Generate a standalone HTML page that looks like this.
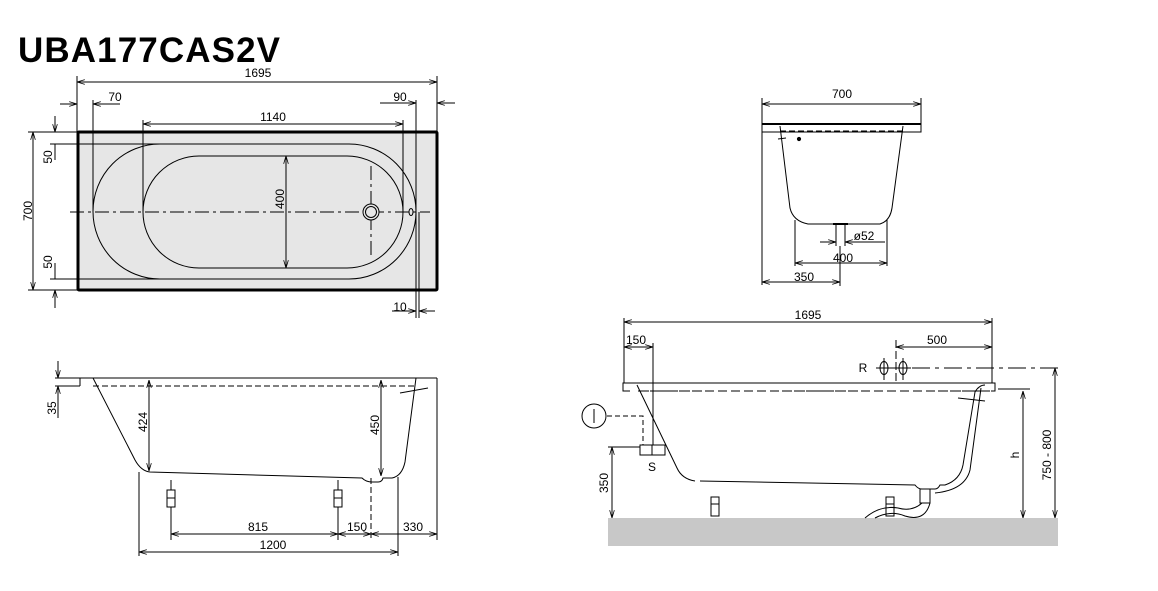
<!DOCTYPE html><html><head><style>body{margin:0;background:#fff}svg{display:block}text{font-family:"Liberation Sans",sans-serif;font-size:12px;fill:#000}</style></head><body>
<svg width="1158" height="591" viewBox="0 0 1158 591" xmlns="http://www.w3.org/2000/svg">
<defs><marker id="a" viewBox="0 0 10 6" refX="10" refY="3" markerWidth="8" markerHeight="5" orient="auto-start-reverse"><path d="M0,0L10,3L0,6" fill="none" stroke="#000"/></marker></defs>
<text x="18" y="62" style="font-size:35px;font-weight:bold" textLength="262">UBA177CAS2V</text>
<g fill="none" stroke="#000" stroke-width="1">
<!-- top view -->
<rect x="78" y="132" width="359" height="158" fill="#e6e6e6" stroke-width="3" rx="1"/>
<line x1="77" y1="76" x2="77" y2="132"/><line x1="437" y1="76" x2="437" y2="132"/>
<line x1="77" y1="82" x2="437" y2="82" marker-start="url(#a)" marker-end="url(#a)"/>
<line x1="60" y1="104" x2="77" y2="104" marker-end="url(#a)"/><line x1="93" y1="104" x2="120" y2="104" marker-start="url(#a)"/>
<line x1="93" y1="100" x2="93" y2="212"/>
<line x1="380" y1="103" x2="416" y2="103" marker-end="url(#a)"/><line x1="455" y1="103" x2="437" y2="103" marker-end="url(#a)"/>
<line x1="416" y1="100" x2="416" y2="318"/><line x1="419" y1="212" x2="419" y2="318"/>
<line x1="143" y1="124" x2="403" y2="124" marker-start="url(#a)" marker-end="url(#a)"/>
<line x1="143" y1="120" x2="143" y2="212"/><line x1="403" y1="120" x2="403" y2="212"/>
<rect x="93" y="144" width="323" height="135" rx="67" ry="67.5"/>
<rect x="143" y="156" width="260" height="112" rx="56" ry="56"/>
<line x1="70" y1="212" x2="430" y2="212" stroke-dasharray="14,4,3,4"/>
<line x1="371" y1="166" x2="371" y2="258" stroke-dasharray="14,4,3,4"/>
<circle cx="371" cy="212" r="8" fill="#e6e6e6"/><circle cx="371" cy="212" r="5.5"/>
<ellipse cx="411" cy="212" rx="2" ry="3.5"/>
<line x1="286" y1="156" x2="286" y2="268" marker-start="url(#a)" marker-end="url(#a)"/>
<line x1="28" y1="132" x2="77" y2="132"/><line x1="28" y1="290" x2="77" y2="290"/>
<line x1="33" y1="132" x2="33" y2="290" marker-start="url(#a)" marker-end="url(#a)"/>
<line x1="50" y1="144" x2="160" y2="144"/><line x1="50" y1="279" x2="160" y2="279"/>
<line x1="55" y1="116" x2="55" y2="132" marker-end="url(#a)"/><line x1="55" y1="144" x2="55" y2="160"/>
<line x1="55" y1="308" x2="55" y2="290" marker-end="url(#a)"/><line x1="55" y1="279" x2="55" y2="263"/>
<line x1="392" y1="311" x2="416" y2="311" marker-end="url(#a)"/><line x1="435" y1="311" x2="419" y2="311" marker-end="url(#a)"/>
<!-- side view left -->
<line x1="55" y1="378" x2="437" y2="378"/>
<line x1="55" y1="386" x2="80" y2="386"/>
<line x1="93" y1="386" x2="415" y2="386" stroke-dasharray="6,3"/>
<line x1="80" y1="378" x2="80" y2="386"/>
<path d="M93,378 L135,460 Q141,471 150,472 L362,478 Q366,482 372,482 L378,482 Q382,482 383,478 L392,478 Q402,476 405,462 L416,378 L437,378"/>
<line x1="400" y1="393" x2="428" y2="388"/>
<line x1="437" y1="378" x2="437" y2="540"/>
<line x1="58" y1="361" x2="58" y2="378" marker-end="url(#a)"/><line x1="58" y1="418" x2="58" y2="386" marker-end="url(#a)"/>
<line x1="149" y1="380" x2="149" y2="471" marker-start="url(#a)" marker-end="url(#a)"/>
<line x1="381" y1="380" x2="381" y2="476" marker-start="url(#a)" marker-end="url(#a)"/>
<line x1="371" y1="478" x2="371" y2="540" stroke-dasharray="6,3"/>
<line x1="171" y1="480" x2="171" y2="540"/><line x1="338" y1="480" x2="338" y2="540"/>
<rect x="167" y="490" width="8" height="8" fill="#fff"/><rect x="167" y="498" width="8" height="9" fill="#fff"/>
<rect x="334" y="490" width="8" height="8" fill="#fff"/><rect x="334" y="498" width="8" height="9" fill="#fff"/>
<line x1="171" y1="534" x2="338" y2="534" marker-start="url(#a)" marker-end="url(#a)"/>
<line x1="338" y1="534" x2="371" y2="534" marker-start="url(#a)" marker-end="url(#a)"/>
<line x1="371" y1="534" x2="437" y2="534" marker-start="url(#a)" marker-end="url(#a)"/>
<line x1="139" y1="472" x2="139" y2="556"/><line x1="398" y1="477" x2="398" y2="556"/>
<line x1="139" y1="552" x2="398" y2="552" marker-start="url(#a)" marker-end="url(#a)"/>
<!-- front view -->
<line x1="762" y1="98" x2="762" y2="285"/><line x1="921" y1="98" x2="921" y2="124"/>
<line x1="762" y1="104" x2="921" y2="104" marker-start="url(#a)" marker-end="url(#a)"/>
<rect x="762" y="124" width="159" height="8"/>
<line x1="762" y1="124" x2="921" y2="124" stroke-width="2"/>
<line x1="780" y1="131" x2="903" y2="131" stroke-dasharray="6,3"/>
<path d="M780,126 L790,208 Q793,221 808,224 L880,224 Q890,221 892,208 L903,126"/>
<line x1="778" y1="139" x2="786" y2="138"/>
<circle cx="799" cy="139" r="1.6" fill="#000"/>
<line x1="836" y1="224" x2="836" y2="246"/><line x1="845" y1="224" x2="845" y2="246"/>
<line x1="833" y1="224" x2="848" y2="224" stroke-width="2"/>
<line x1="820" y1="242" x2="836" y2="242" marker-end="url(#a)"/><line x1="885" y1="242" x2="845" y2="242" marker-end="url(#a)"/>
<line x1="795" y1="220" x2="795" y2="266"/><line x1="887" y1="220" x2="887" y2="266"/>
<line x1="795" y1="263" x2="887" y2="263" marker-start="url(#a)" marker-end="url(#a)"/>
<line x1="840" y1="246" x2="840" y2="286"/>
<line x1="762" y1="282" x2="840" y2="282" marker-start="url(#a)" marker-end="url(#a)"/>
<!-- right side view -->
<rect x="608" y="518" width="450" height="28" fill="#c8c8c8" stroke="none"/>
<line x1="624" y1="318" x2="624" y2="383"/><line x1="992" y1="318" x2="992" y2="383"/>
<line x1="624" y1="322" x2="992" y2="322" marker-start="url(#a)" marker-end="url(#a)"/>
<line x1="624" y1="347" x2="653" y2="347" marker-start="url(#a)" marker-end="url(#a)"/>
<line x1="653" y1="343" x2="653" y2="455"/>
<line x1="896" y1="347" x2="992" y2="347" marker-start="url(#a)" marker-end="url(#a)"/>
<line x1="896" y1="340" x2="896" y2="382" stroke-dasharray="8,3"/>
<ellipse cx="884" cy="368" rx="4" ry="6.5"/><ellipse cx="903" cy="368" rx="4" ry="6.5"/>
<line x1="884" y1="358" x2="884" y2="380"/><line x1="903" y1="358" x2="903" y2="380"/>
<line x1="876" y1="368" x2="911" y2="368"/>
<line x1="912" y1="368" x2="1062" y2="368" stroke-dasharray="18,5,4,5"/>
<path d="M623,383 L995,383 L995,391 L623,391 Z"/>
<line x1="630" y1="391" x2="995" y2="391" stroke-dasharray="8,4" stroke="#fff"/>
<line x1="640" y1="391" x2="995" y2="391" stroke-dasharray="9,4"/>
<line x1="998" y1="389" x2="1030" y2="389"/>
<path d="M637,385 L677,468 Q682,479 695,481 M700,481 L915,485 Q918,489 922,489 L935,489 Q938,489 940,485 L945,485 Q960,480 963,465 L975,392 Q979,385 985,385"/>
<path d="M981,388 L970,470 Q965,490 935,493"/>
<line x1="958" y1="398" x2="985" y2="401"/>
<circle cx="594" cy="416" r="12"/><line x1="594" y1="409" x2="594" y2="423"/>
<path d="M607,416 L643,416 L643,445" stroke-dasharray="5,3"/>
<rect x="640" y="445" width="25" height="10" fill="#fff"/><line x1="652" y1="445" x2="652" y2="455"/>
<line x1="608" y1="447" x2="640" y2="447"/>
<line x1="612" y1="447" x2="612" y2="518" marker-start="url(#a)" marker-end="url(#a)"/>
<line x1="1023" y1="391" x2="1023" y2="518" marker-start="url(#a)" marker-end="url(#a)"/>
<line x1="1055" y1="368" x2="1055" y2="518" marker-start="url(#a)" marker-end="url(#a)"/>
<rect x="711" y="497" width="8" height="7" fill="#fff"/><rect x="711" y="504" width="8" height="12" fill="#fff"/>
<rect x="886" y="497" width="8" height="7" fill="#fff"/><rect x="886" y="504" width="8" height="12" fill="#fff"/>
<rect x="920" y="489" width="10" height="14" fill="#fff"/>
<path d="M865,518 Q880,505 898,508 Q912,512 922,503 M875,518 Q890,510 905,516 Q925,522 930,503"/>
</g>
<text x="258" y="77" text-anchor="middle">1695</text>
<text x="115" y="101" text-anchor="middle">70</text>
<text x="400" y="101" text-anchor="middle">90</text>
<text x="273" y="121" text-anchor="middle">1140</text>
<text x="400" y="311" text-anchor="middle">10</text>
<text transform="translate(32,211) rotate(-90)" text-anchor="middle">700</text>
<text transform="translate(52,157) rotate(-90)" text-anchor="middle">50</text>
<text transform="translate(52,262) rotate(-90)" text-anchor="middle">50</text>
<text transform="translate(284,199) rotate(-90)" text-anchor="middle">400</text>
<text transform="translate(56,408) rotate(-90)" text-anchor="middle">35</text>
<text transform="translate(147,422) rotate(-90)" text-anchor="middle">424</text>
<text transform="translate(379,425) rotate(-90)" text-anchor="middle">450</text>
<text x="258" y="531" text-anchor="middle">815</text>
<text x="357" y="531" text-anchor="middle">150</text>
<text x="413" y="531" text-anchor="middle">330</text>
<text x="273" y="549" text-anchor="middle">1200</text>
<text x="842" y="98" text-anchor="middle">700</text>
<text x="864" y="240" text-anchor="middle">ø52</text>
<text x="843" y="262" text-anchor="middle">400</text>
<text x="804" y="281" text-anchor="middle">350</text>
<text x="808" y="319" text-anchor="middle">1695</text>
<text x="636" y="344" text-anchor="middle">150</text>
<text x="937" y="344" text-anchor="middle">500</text>
<text x="863" y="372" text-anchor="middle">R</text>
<text x="652" y="471" text-anchor="middle">S</text>
<text transform="translate(608,483) rotate(-90)" text-anchor="middle">350</text>
<text transform="translate(1019,455) rotate(-90)" text-anchor="middle">h</text>
<text transform="translate(1051,455) rotate(-90)" text-anchor="middle">750 - 800</text>
</svg></body></html>
